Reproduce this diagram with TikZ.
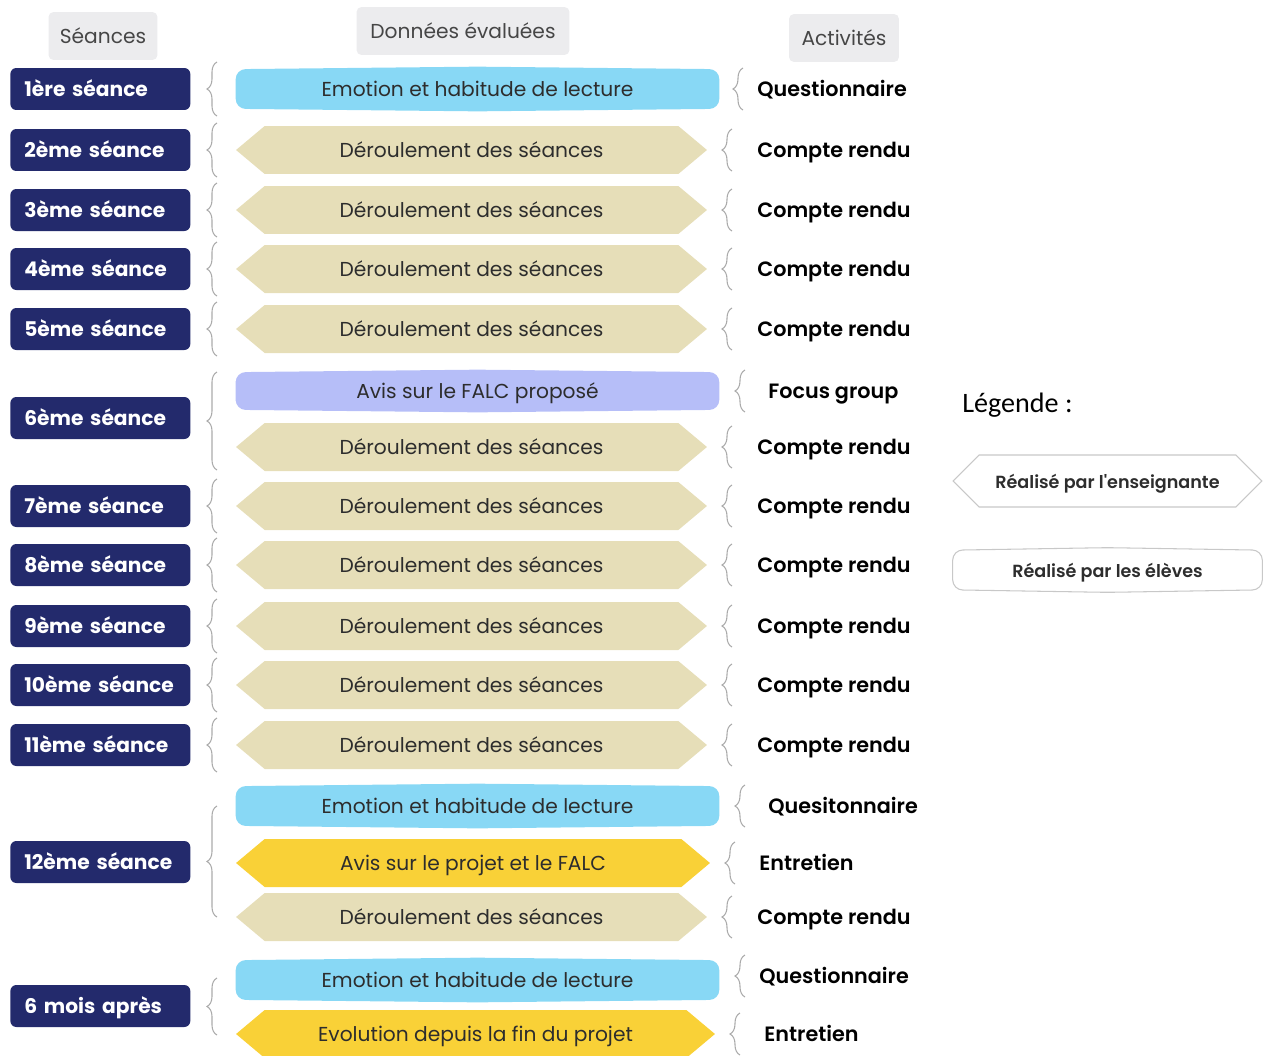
\documentclass[tikz,border=0pt]{standalone}
\usepackage{fontspec}
\setmainfont{Poppins}
\newfontfamily\popsemi{Poppins}[UprightFont=* SemiBold]
\newfontfamily\legfont{Carlito}
\usetikzlibrary{shapes.symbols,decorations.pathreplacing,backgrounds,calc}
\definecolor{navy}{RGB}{35,42,108}
\definecolor{hdrgray}{RGB}{236,236,238}
\definecolor{hdrtext}{RGB}{70,70,70}
\definecolor{beige}{RGB}{230,222,184}
\definecolor{skyb}{RGB}{136,216,245}
\definecolor{lilac}{RGB}{182,190,248}
\definecolor{gold}{RGB}{249,209,55}
\definecolor{dtext}{RGB}{45,45,45}
\definecolor{bracegray}{RGB}{170,170,170}
\definecolor{legborder}{RGB}{200,200,200}
\tikzset{
  ctr/.style={text height=1.05em, text depth=0.15em},
  hdr/.style={fill=hdrgray, rounded corners=0.1cm, minimum height=0.96cm, inner sep=0pt,
    text=hdrtext, font=\fontsize{11.5}{13}\selectfont, ctr},
  sess/.style={fill=navy, rounded corners=0.12cm, minimum height=0.84cm, inner xsep=0.28cm,
    inner ysep=0pt, text width=3.04cm, align=left, text=white, anchor=west,
    font=\bfseries\fontsize{11.5}{13}\selectfont, ctr},
  hexa/.style={signal, signal to=east and west, signal pointer angle=80, fill=beige,
    minimum height=0.96cm, minimum width=9.42cm, inner sep=0pt, text=dtext,
    font=\fontsize{11.5}{13}\selectfont, ctr},
  barrel/.style={rectangle, minimum height=0.88cm, minimum width=9.66cm,
    inner sep=0pt, text=dtext, font=\fontsize{11.5}{13}\selectfont, ctr},
  act/.style={anchor=west, inner sep=0pt, text=black, font=\popsemi\fontsize{11.8}{13}\selectfont, ctr},
  brc/.style={decorate, decoration={brace, amplitude=0.2cm}, draw=bracegray, line width=0.6pt},
  legtext/.style={text=dtext, font=\popsemi\fontsize{10}{12}\selectfont, ctr}
}
\newcommand\barrelbg[2]{%
  \begin{scope}[on background layer]
  \path[#2, rounded corners=0.2cm] (#1.west) -- ($(#1.north west)+(0,2.5)$) -- (#1.north)
    -- ($(#1.north east)+(0,2.5)$) -- ($(#1.south east)+(0,-2.5)$) -- (#1.south)
    -- ($(#1.south west)+(0,-2.5)$) -- cycle;
  \end{scope}}
\begin{document}
\begin{tikzpicture}[x=0.02cm,y=-0.02cm]
\useasboundingbox (0,0) rectangle (1268,1055);

% headers
\node[hdr, minimum width=2.18cm] (h1) at (103,36) {Séances};
\node[hdr, minimum width=4.26cm] (h2) at (463,31) {Données évaluées};
\node[hdr, minimum width=2.2cm] (h3) at (844,38) {Activités};

% sessions
\foreach \n/\y/\t in {s1/89/1ère séance, s2/150/2ème séance, s3/210/3ème séance,
  s4/269/4ème séance, s5/329/5ème séance, s6/418/6ème séance, s7/506/7ème séance,
  s8/565/8ème séance, s9/626/9ème séance, s10/685/10ème séance, s11/745/11ème séance,
  s12/862/12ème séance, s13/1006/6 mois après}
  \node[sess] (\n) at (10,\y) {\t};

% left braces
\foreach \a/\b in {62/116, 123/177, 183/237, 242/296, 302/356, 372/470, 479/533,
  538/592, 599/653, 658/712, 718/772, 806/917, 978/1035}
  \draw[brc] (217,\b) -- (217,\a);

% middle shapes
\node[barrel] (m1) at (477.5,89) {Emotion et habitude de lecture};
\barrelbg{m1}{fill=skyb}
\foreach \n/\y in {m2/150, m3/210, m4/269, m5/329, m6b/447, m7/506, m8/565,
  m9/626, m10/685, m11/745, m12c/917}
  \node[hexa] (\n) at (471.5,\y) {Déroulement des séances};
\node[barrel, minimum height=0.84cm] (m6a) at (477.5,391) {Avis sur le FALC proposé};
\barrelbg{m6a}{fill=lilac}
\node[barrel] (m12a) at (477.5,806) {Emotion et habitude de lecture};
\barrelbg{m12a}{fill=skyb}
\node[hexa, fill=gold, minimum width=9.48cm] (m12b) at (473,863) {Avis sur le projet et le FALC};
\node[barrel] (m13a) at (477.5,980) {Emotion et habitude de lecture};
\barrelbg{m13a}{fill=skyb}
\node[hexa, fill=gold, minimum width=9.58cm] (m13b) at (475.5,1034) {Evolution depuis la fin du projet};

% activities and right braces
\node[act] (a1) at (757,89) {Questionnaire};
\draw[brc] (743,110) -- (743,68);
\foreach \n/\y in {a2/150, a3/210, a4/269, a5/329, a6b/447, a7/506, a8/565,
  a9/626, a10/685, a11/745, a12c/917}{
  \node[act] (\n) at (757,\y) {Compte rendu};
  \draw[brc] (732,\y+21) -- (732,\y-21);
}
\node[act] (a6a) at (768,391) {Focus group};
\draw[brc] (745,412) -- (745,370);
\node[act] (a12a) at (768,806) {Quesitonnaire};
\draw[brc] (745,827) -- (745,785);
\node[act] (a12b) at (759,863) {Entretien};
\draw[brc] (735,884) -- (735,842);
\node[act] (a13a) at (759,976) {Questionnaire};
\draw[brc] (745,997) -- (745,955);
\node[act] (a13b) at (764,1034) {Entretien};
\draw[brc] (740,1055) -- (740,1013);

% legend
\node[anchor=west, inner sep=0pt, font=\legfont\fontsize{16}{18}\selectfont] (lg) at (962,405) {Légende :};
\node[signal, signal to=east and west, signal pointer angle=90, fill=white, draw=legborder,
  line width=0.6pt, minimum width=6.18cm, minimum height=1.04cm, inner sep=0pt, legtext]
  (l1) at (1107.5,481) {Réalisé par l\textquotesingle enseignante};
\node[barrel, minimum width=6.18cm, minimum height=0.88cm, legtext] (l2) at (1107.5,570) {Réalisé par les élèves};
\barrelbg{l2}{fill=white, draw=legborder, line width=0.6pt}
\end{tikzpicture}
\end{document}
